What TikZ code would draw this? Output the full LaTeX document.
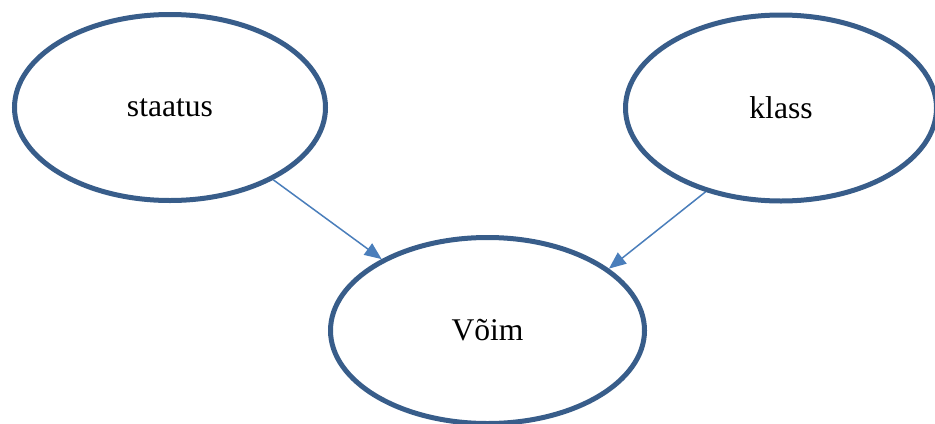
\documentclass[tikz,border=0pt]{standalone}
\usepackage{fontspec}
\setmainfont{Liberation Serif}
\usetikzlibrary{shapes.geometric,arrows.meta}

\definecolor{ringblue}{HTML}{385D8A}
\definecolor{arrowblue}{HTML}{4A7EBB}

\begin{document}
\begin{tikzpicture}[x=0.5pt, y=-0.5pt,
    concept/.style={ellipse, draw=ringblue, line width=2.5pt,
      minimum width=155.5pt, minimum height=93pt,
      font=\fontsize{15.8}{19}\selectfont},
    link/.style={draw=arrowblue, line width=0.75pt,
      -{Triangle[length=8.5pt,width=7pt]}}]
  \useasboundingbox (0,0) rectangle (935,423);
  \node[concept] (staatus) at (170,107.5) {staatus};
  \node[concept] (klass) at (781,108) {klass};
  \node[concept, minimum width=157pt] (voim) at (487.5,330.5) {Võim};
  \path[link] (staatus.325) -- (voim.146);
  \path[link] (klass.228) -- (voim.27);
\end{tikzpicture}
\end{document}
